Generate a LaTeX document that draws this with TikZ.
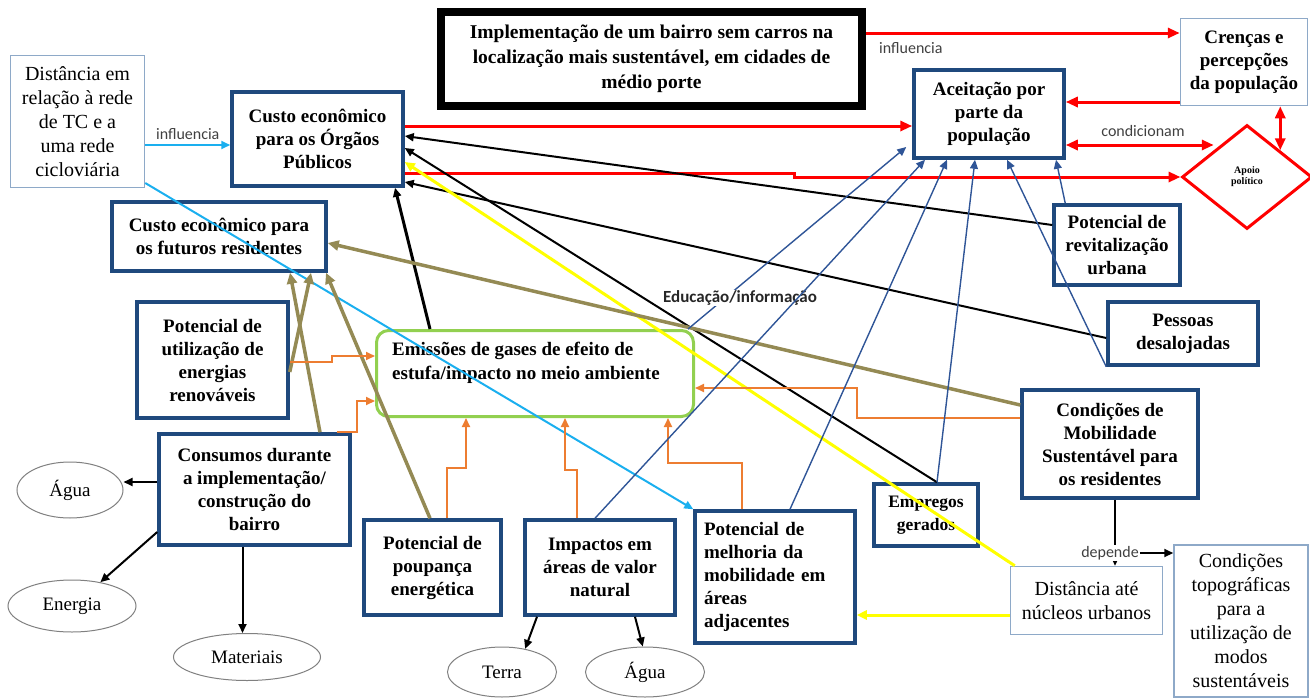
\documentclass[tikz,border=0pt]{standalone}
\usepackage{fontspec}
\setmainfont{Liberation Serif}
\newfontfamily\labfont{Carlito}
\usetikzlibrary{arrows.meta,shapes.geometric,calc}
\definecolor{boxblue}{HTML}{1F497D}
\definecolor{lightbord}{HTML}{8EA9C8}
\definecolor{grn}{HTML}{92D050}
\definecolor{orng}{HTML}{ED7D31}
\definecolor{olive2}{HTML}{948A54}
\definecolor{dblue}{HTML}{2F5597}
\definecolor{cyanl}{HTML}{1AAFEF}
\definecolor{yel}{HTML}{FFFF00}
\definecolor{labgray}{HTML}{404040}
\tikzset{
  bx/.style={draw=boxblue, line width=3.5pt, fill=white, inner sep=2pt, align=center,
    font=\fontsize{19}{23}\selectfont\bfseries},
  lbx/.style={draw=lightbord, line width=1.5pt, fill=white, inner sep=2pt, align=center,
    font=\fontsize{20}{24}\selectfont},
  ell/.style={ellipse, draw=gray, line width=1pt, fill=white, inner sep=0pt,
    font=\fontsize{19}{22}\selectfont},
  sz/.style 2 args={minimum width=#1pt, minimum height=#2pt},
  lbl/.style={font=\labfont\fontsize{16}{18}\selectfont, text=labgray, inner sep=1pt},
  rdl/.style={draw=red, line width=3pt, >={Triangle[length=12pt,width=10pt]}},
  blk/.style={draw=black, line width=2pt, ->, >={Triangle[length=9pt,width=8pt]}},
  yell/.style={draw=yel, line width=3pt, ->, >={Triangle[length=10pt,width=9pt]}},
  cyl/.style={draw=cyanl, line width=2pt, ->, >={Triangle[length=9pt,width=8pt]}},
  olv/.style={draw=olive2, line width=3.5pt, ->, >={Triangle[length=11pt,width=10pt]}},
  orl/.style={draw=orng, line width=2pt, ->, >={Triangle[length=9pt,width=8pt]}},
  dbl/.style={draw=dblue, line width=1.4pt, ->, >={Triangle[length=9pt,width=8pt]}},
}
\begin{document}
\begin{tikzpicture}[x=1pt,y=-1pt]
\useasboundingbox (0,0) rectangle (1310,699);
% ---- nodes
\node[bx, draw=black, line width=8pt, sz={421}{94}, font=\fontsize{19.5}{25}\selectfont\bfseries] (top) at (651.5,59)
  {Implementação de um bairro sem carros na\\localização mais sustentável, em cidades de\\médio porte};
\node[lbx, sz={134}{132}] (dist1) at (77.5,121.5) {Distância em\\relação à rede\\de TC e a\\uma rede\\cicloviária};
\node[bx, sz={171}{94}] (custoOP) at (317.5,139) {Custo econômico\\para os Órgãos\\Públicos};
\node[bx, sz={214}{69}] (custoFR) at (219,236.5) {Custo econômico para\\os futuros residentes};
\node[bx, sz={151}{116}] (potUtil) at (212.5,360) {Potencial de\\utilização de\\energias\\renováveis};
\node[bx, sz={191}{111}] (consumos) at (254.5,489.5) {Consumos durante\\a implementação/\\construção do\\bairro};
\node[ell, sz={106}{56}] (agua1) at (70,490) {Água};
\node[ell, sz={128}{52}] (energia) at (72,606) {Energia};
\node[ell, sz={147}{47}] (materiais) at (247,657) {Materiais};
\node[draw=grn, line width=3pt, rounded corners=12pt, fill=white, sz={317}{86}] (emis) at (535,373.5) {};
\node[anchor=north west, inner sep=0pt, align=left, font=\fontsize{19}{24}\selectfont\bfseries] (emistxt) at (392,342)
  {Emissões de gases de efeito de\\estufa/impacto no meio ambiente};
\node[bx, sz={137}{95}] (poupanca) at (432.5,567.5) {Potencial de\\poupança\\energética};
\node[bx, sz={150}{95}] (impactos) at (600,567.5) {Impactos em\\áreas de valor\\natural};
\node[ell, sz={109}{50}] (terra) at (502,672) {Terra};
\node[ell, sz={119}{50}] (agua2) at (645,672) {Água};
\node[bx, sz={160}{132}, text width=142pt, align=left] (melhoria) at (775,577) {Potencial de\\melhoria da\\mobilidade em\\áreas\\adjacentes};
\node[bx, sz={104}{62}, inner sep=0pt, font=\fontsize{17.5}{23}\selectfont\bfseries] (empregos) at (926,515) {Empregos\\gerados};
\node[bx, sz={150}{88}] (aceit) at (989,114) {Aceitação por\\parte da\\população};
\node[lbx, sz={127}{87}, font=\fontsize{19}{23}\selectfont\bfseries] (crencas) at (1244,62) {Crenças e\\percepções\\da população};
\node[diamond, draw=red, line width=3pt, fill=white, inner sep=0pt, aspect=1.25, sz={130}{104},
  align=center, font=\fontsize{10}{11}\selectfont\bfseries] (apoio) at (1247,177) {Apoio\\político};
\node[bx, sz={126}{80}] (revit) at (1117,245) {Potencial de\\revitalização\\urbana};
\node[bx, sz={150}{63}] (pessoas) at (1183,333.5) {Pessoas\\desalojadas};
\node[bx, sz={176}{108}] (condMob) at (1110,444) {Condições de\\Mobilidade\\Sustentável para\\os residentes};
\node[lbx, sz={152}{68}] (distNuc) at (1086.5,600.5) {Distância até\\núcleos urbanos};
\node[lbx, sz={134}{152}] (topog) at (1241,621) {Condições\\topográficas\\para a\\utilização de\\modos\\sustentáveis};
% ---- red connectors
\coordinate (r1a) at ([yshift=26pt]top.east);
\draw[rdl, ->] (r1a) -- (r1a -| crencas.west);
\node[lbl, anchor=west] (inf2) at (878,48) {influencia};
\coordinate (r2a) at ([yshift=13pt]custoOP.east);
\draw[rdl, ->] (r2a) -- (r2a -| aceit.west);
\coordinate (r3a) at ([yshift=-34pt]custoOP.east);
\draw[rdl, ->] (r3a) -- ++(390,0) |- (apoio.west);
\coordinate (r4a) at ([yshift=-40pt]crencas.west);
\draw[rdl, ->] (r4a) -- (r4a -| aceit.east);
\coordinate (r5a) at ([yshift=-31pt]aceit.east);
\draw[rdl, <->] (r5a) -- (r5a -| apoio.north west);
\node[lbl] (cond) at (1143,131) {condicionam};
\draw[rdl, <->] (crencas.south -| apoio.north east) -- (apoio.north east);
% ---- black connectors
\draw[blk, line width=3pt] ([xshift=-105pt]emis.north) -- ([xshift=77.5pt]custoOP.south);
\draw[blk] ([yshift=20pt]revit.west) -- ([yshift=3pt]custoOP.east);
\draw[blk] ([xshift=11pt]empregos.north) -- ([yshift=-9pt]custoOP.east);
\draw[blk] ([yshift=-4.5pt]pessoas.west) -- ([yshift=-43pt]custoOP.east);
\coordinate (c1) at ([yshift=7.5pt]consumos.west);
\draw[blk] (c1) -- (c1 -| agua1.east);
\draw[blk] ([yshift=-42.5pt]consumos.west) -- (energia.40);
\coordinate (c3) at ([xshift=-12pt]consumos.south);
\draw[blk] (c3) -- (c3 |- materiais.north);
\draw[blk] ([xshift=-63pt]impactos.south) -- (terra.45);
\draw[blk] ([xshift=35pt]impactos.south) -- (agua2.95);
% ---- yellow
\draw[yell] ([xshift=5pt]distNuc.north west) -- ([yshift=-23pt]custoOP.east);
\coordinate (y2) at ([yshift=-14.5pt]distNuc.west);
\draw[yell] (y2) -- (y2 -| melhoria.east);
% ---- light blue
\coordinate (cy1) at ([yshift=-23.5pt]dist1.east);
\draw[cyl] (cy1) -- (cy1 -| custoOP.west) node[midway, above=3pt, lbl] (inf1) {influencia};
\draw[cyl] ([yshift=-61.5pt]dist1.east) -- (melhoria.north west);
% ---- olive
\draw[olv] ([yshift=39pt]condMob.west) -- ([yshift=-6.5pt]custoFR.east);
\draw[olv] ([xshift=65.5pt]consumos.north) -- ([xshift=71pt]custoFR.south);
\draw[olv] ([yshift=-12pt]potUtil.east) -- ([xshift=92pt]custoFR.south);
\draw[olv] ([xshift=-2.5pt]poupanca.north) -- ([xshift=107pt]custoFR.south);
% ---- orange
\draw[orl] ([yshift=-2pt]potUtil.east) -- ++(42,0) |- ([yshift=17.5pt]emis.west);
\draw[orl] ([xshift=82.5pt]consumos.north) -- ++(20,0) |- ([yshift=-27.5pt]emis.west);
\draw[orl] ([xshift=14.5pt]poupanca.north) -- ++(0,-50) -| ([xshift=-69pt]emis.south);
\draw[orl] ([xshift=-23pt]impactos.north) -- ++(0,-48) -| ([xshift=30pt]emis.south);
\draw[orl] ([xshift=-33pt]melhoria.north) -- ++(0,-46) -| ([xshift=133pt]emis.south);
\draw[orl] ([yshift=26pt]condMob.west) -- ++(-163,0) |- ([yshift=-14.5pt]emis.east);
% ---- dark blue
\draw[dbl] ([xshift=153pt]emis.north) -- ([xshift=-6pt,yshift=-33pt]aceit.west);
\node[lbl, fill=white, text=black!85, font=\labfont\bfseries\fontsize{17}{19}\selectfont] (edu) at (740,298) {Educação/informação};
\draw[dbl] ([xshift=-5pt]impactos.north) -- ([xshift=-64pt]aceit.south);
\draw[dbl] ([xshift=15pt]melhoria.north) -- ([xshift=-42pt]aceit.south);
\draw[dbl] ([xshift=11pt]empregos.north) -- ([xshift=-14pt]aceit.south);
\draw[dbl] (pessoas.south west) -- ([xshift=18pt]aceit.south);
\draw[dbl] ([xshift=13pt]revit.north west) -- ([xshift=67pt]aceit.south);
% ---- depende
\coordinate (d1) at ([xshift=5pt]condMob.south);
\draw[blk] (d1) -- (d1 |- distNuc.north);
\node[lbl, fill=white] (dep) at (1110,553) {depende};
\draw[blk] (dep.east) -- (dep.east -| topog.west);
\end{tikzpicture}
\end{document}
